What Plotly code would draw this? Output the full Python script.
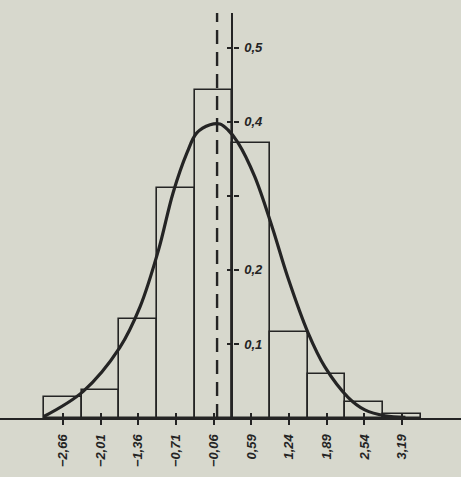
import plotly.graph_objects as go

# Histogram (bin centres and relative frequencies)
bin_centers = [-2.66, -2.01, -1.36, -0.71, -0.06, 0.59, 1.24, 1.89, 2.54, 3.19]
bin_heights = [0.029, 0.038, 0.134, 0.310, 0.443, 0.371, 0.116, 0.060, 0.021, 0.006]
bin_width = 0.65
tick_labels = ["−2,66", "−2,01", "−1,36", "−0,71", "−0,06", "0,59", "1,24", "1,89", "2,54", "3,19"]

# Smooth density curve
curve_x = [-2.99, -2.31, -1.68, -1.33, -1.01, -0.76, -0.52, -0.35, -0.12, 0.05,
           0.19, 0.36, 0.65, 0.95, 1.22, 1.57, 1.86, 2.26, 2.55, 2.90, 3.25]
curve_y = [0.002, 0.036, 0.095, 0.150, 0.227, 0.304, 0.358, 0.385, 0.396, 0.397,
           0.389, 0.372, 0.326, 0.258, 0.190, 0.115, 0.069, 0.028, 0.011, 0.003, 0.001]

y_ticks = [0.1, 0.2, 0.3, 0.4, 0.5]
y_tick_labels = ["0,1", "0,2", "", "0,4", "0,5"]

mean_x = 0.0
y_axis_x = 0.265

INK = "#242424"
BG = "#d7d8cd"

X_RANGE = [-3.746, 4.209]
Y_RANGE = [0, 0.547]

fig = go.Figure()
fig.add_trace(go.Bar(
    x=bin_centers, y=bin_heights, width=bin_width,
    marker=dict(color="rgba(0,0,0,0)", line=dict(color=INK, width=1.6)),
    showlegend=False, hoverinfo="skip",
))
fig.add_trace(go.Scatter(
    x=curve_x, y=curve_y, mode="lines", line=dict(color=INK, width=3.2, shape="spline", smoothing=1.0),
    showlegend=False, hoverinfo="skip",
))
# mean dashed line
fig.add_trace(go.Scatter(
    x=[mean_x, mean_x], y=[0, Y_RANGE[1]], mode="lines",
    line=dict(color=INK, width=2.4, dash="14px,8px"),
    showlegend=False, hoverinfo="skip",
))

W, H = 461, 477
ml, mr, mt, mb = 0, 0, 13, 59
pos = (y_axis_x - X_RANGE[0]) / (X_RANGE[1] - X_RANGE[0])

FONT = "Liberation Sans Narrow, Liberation Sans, Arial"

fig.update_layout(
    width=W, height=H,
    margin=dict(l=ml, r=mr, t=mt, b=mb),
    paper_bgcolor=BG, plot_bgcolor=BG,
    bargap=0,
    xaxis=dict(range=X_RANGE, showgrid=False, zeroline=False, showline=True,
               linecolor=INK, linewidth=2.2, ticks="outside", ticklen=5, tickwidth=1.6,
               tickcolor=INK, tickvals=bin_centers, ticktext=tick_labels,
               tickangle=-90, tickfont=dict(family=FONT, size=13, color=INK, style="italic", weight=600),
               ticklabelstandoff=4),
    xaxis2=dict(range=X_RANGE, overlaying="x", anchor="y", side="bottom",
                showgrid=False, zeroline=False, showline=False,
                ticks="inside", ticklen=5, tickwidth=1.6, tickcolor=INK,
                tickvals=bin_centers, showticklabels=False),
    yaxis=dict(range=Y_RANGE, anchor="free", position=pos, side="right",
               showgrid=False, zeroline=False, showline=True, linecolor=INK, linewidth=2.4,
               ticks="outside", ticklen=5, tickwidth=1.6, tickcolor=INK,
               tickvals=y_ticks, ticktext=y_tick_labels,
               tickfont=dict(family=FONT, size=13, color=INK, style="italic", weight=600),
               ticklabelstandoff=3),
    yaxis2=dict(range=Y_RANGE, overlaying="y", anchor="free", position=pos, side="left",
                showgrid=False, zeroline=False, showline=False,
                ticks="outside", ticklen=5, tickwidth=1.6, tickcolor=INK,
                tickvals=y_ticks, showticklabels=False),
)
# dummy trace to activate overlay axes
fig.add_trace(go.Scatter(x=[None], y=[None], xaxis="x2", yaxis="y2", showlegend=False, hoverinfo="skip"))

fig.write_html("out.html", config={"displayModeBar": False},
               post_script="document.body.style.margin='0';document.body.style.background='" + BG + "';")
